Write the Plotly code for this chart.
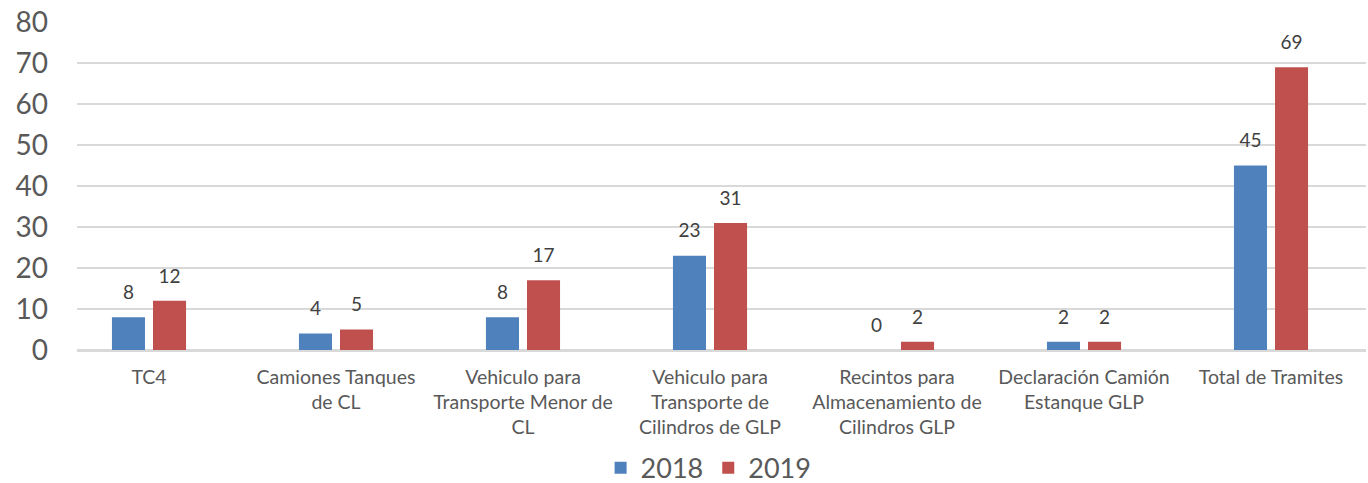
import plotly.graph_objects as go

categories = [
    "TC4",
    "Camiones Tanques<br>de CL",
    "Vehiculo para<br>Transporte Menor de<br>CL",
    "Vehiculo para<br>Transporte de<br>Cilindros de GLP",
    "Recintos para<br>Almacenamiento de<br>Cilindros GLP",
    "Declaración Camión<br>Estanque GLP",
    "Total de Tramites",
]
values_2018 = [8, 4, 8, 23, 0, 2, 45]
values_2019 = [12, 5, 17, 31, 2, 2, 69]
series_names = ["2018", "2019"]
colors = ["#4F81BD", "#C0504D"]
y_ticks = [0, 10, 20, 30, 40, 50, 60, 70, 80]

FONT = "Lato, 'Open Sans', sans-serif"

fig = go.Figure()
for name, vals, col, grp in zip(series_names, [values_2018, values_2019], colors, ["a", "b"]):
    fig.add_trace(go.Bar(
        x=categories, y=vals, name=name, marker_color=col,
        offsetgroup=grp, marker_line_width=0,
    ))
for name, vals, grp in zip(series_names, [values_2018, values_2019], ["a", "b"]):
    fig.add_trace(go.Scatter(
        x=categories, y=vals, mode="markers+text", text=[str(v) for v in vals],
        textposition="top center", offsetgroup=grp, showlegend=False,
        marker=dict(size=20, opacity=0), cliponaxis=False,
        textfont=dict(family=FONT, size=19, color="#404040"), hoverinfo="skip",
    ))

fig.update_layout(
    width=1368, height=483,
    margin=dict(l=77, r=2, t=22, b=133, autoexpand=False),
    paper_bgcolor="white", plot_bgcolor="white",
    barmode="group", bargap=0.561, bargroupgap=0.195,
    scattermode="group", scattergap=0.561,
    font=dict(family=FONT, color="#595959"),
    legend=dict(orientation="h", x=0.49, xanchor="center", y=-0.36, yanchor="middle",
                font=dict(size=27, family=FONT, color="#595959"), itemwidth=30),
    showlegend=True,
)
fig.update_xaxes(
    type="category", range=[-0.385, 6.508], showgrid=False, showline=False,
    ticks="", tickfont=dict(size=19.5, family=FONT, color="#595959"),
    ticklabelstandoff=13, zeroline=False, automargin=False,
)
fig.update_yaxes(
    range=[0, 80.02], tickvals=y_ticks, showgrid=True, gridcolor="#D9D9D9", gridwidth=1.5,
    zeroline=True, zerolinecolor="#D9D9D9", zerolinewidth=3, showline=False,
    ticks="", tickfont=dict(size=28, family=FONT, color="#595959"),
    ticklabelstandoff=28, automargin=False,
)

fig.write_html(
    "out.html",
    config={"displayModeBar": False},
    post_script="document.body.style.margin='0';document.body.style.overflow='hidden';",
)
